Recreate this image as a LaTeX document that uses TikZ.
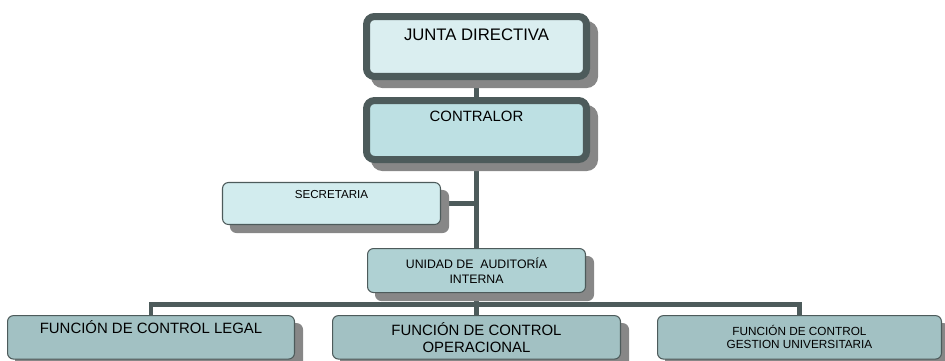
\documentclass[tikz,border=0pt]{standalone}
\usepackage{fontspec}
\setmainfont{Liberation Sans}
\usetikzlibrary{positioning, backgrounds}

\definecolor{linegray}{HTML}{4D5B5B}
\definecolor{shadowgray}{HTML}{878787}
\definecolor{juntafill}{HTML}{DAEEF0}
\definecolor{contrafill}{HTML}{BDE0E3}
\definecolor{secrefill}{HTML}{D2ECEE}
\definecolor{unidadfill}{HTML}{AFD1D3}
\definecolor{funcfill}{HTML}{A2C1C3}

\begin{document}
\begin{tikzpicture}[
    x=0.02cm, y=-0.02cm,
    boxshadow/.style={preaction={draw=shadowgray, fill=shadowgray, transform canvas={shift={(1.6mm,-1.6mm)}}}},
    topbox/.style={rectangle, rounded corners=1.6mm, draw=linegray, line width=4pt, boxshadow, minimum width=4.4cm, inner ysep=0pt},
    unitbox/.style={rectangle, rounded corners=1.2mm, draw=linegray, line width=0.6pt, boxshadow, align=center, inner ysep=0pt},
    link/.style={draw=linegray, line width=2.8pt}
]
\useasboundingbox (0,0) rectangle (945,360);

% Direction
\node[topbox, fill=juntafill, text height=0.47cm, text depth=0.73cm, font=\fontsize{9.5}{11}\selectfont] (junta) at (476.5,46.5) {JUNTA DIRECTIVA};
\node[topbox, fill=contrafill, text height=0.41cm, text depth=0.77cm, font=\fontsize{8.5}{10}\selectfont, below=0.34cm of junta] (contralor) {CONTRALOR};

% Staff
\node[unitbox, fill=secrefill, minimum width=4.36cm, text height=0.31cm, text depth=0.53cm, font=\fontsize{6.6}{8}\selectfont] (secretaria) at (331.5,203.5) {SECRETARIA};
\node[unitbox, fill=unidadfill, minimum width=4.36cm, minimum height=0.88cm, font=\fontsize{7}{8.5}\selectfont, below=1.7cm of contralor] (unidad) {UNIDAD DE\ \ AUDITORÍA\\INTERNA};

% Functions
\node[unitbox, fill=funcfill, minimum width=5.76cm, minimum height=0.87cm, font=\fontsize{8.5}{9.6}\selectfont, below=0.44cm of unidad] (operacional) {FUNCIÓN DE CONTROL\\OPERACIONAL};
\node[unitbox, fill=funcfill, minimum width=5.74cm, text height=0.35cm, text depth=0.52cm, font=\fontsize{8.5}{9.6}\selectfont, left=0.74cm of operacional] (legal) {FUNCIÓN DE CONTROL LEGAL};
\node[unitbox, fill=funcfill, minimum width=5.68cm, minimum height=0.87cm, font=\fontsize{6.7}{7.4}\selectfont, right=0.72cm of operacional] (gestion) {FUNCIÓN DE CONTROL\\GESTION UNIVERSITARIA};

% Links
\begin{scope}[on background layer]
\draw[link] (junta) -- (contralor);
\draw[link] (contralor) -- (unidad);
\draw[link] (secretaria.east) -- (secretaria.east -| contralor.south);
\path (unidad.south) -- (operacional.north) coordinate[midway] (bus);
\draw[link] (unidad) -- (operacional);
\draw[link] (legal.north) |- (bus) -| (gestion.north);
\end{scope}

\end{tikzpicture}
\end{document}
